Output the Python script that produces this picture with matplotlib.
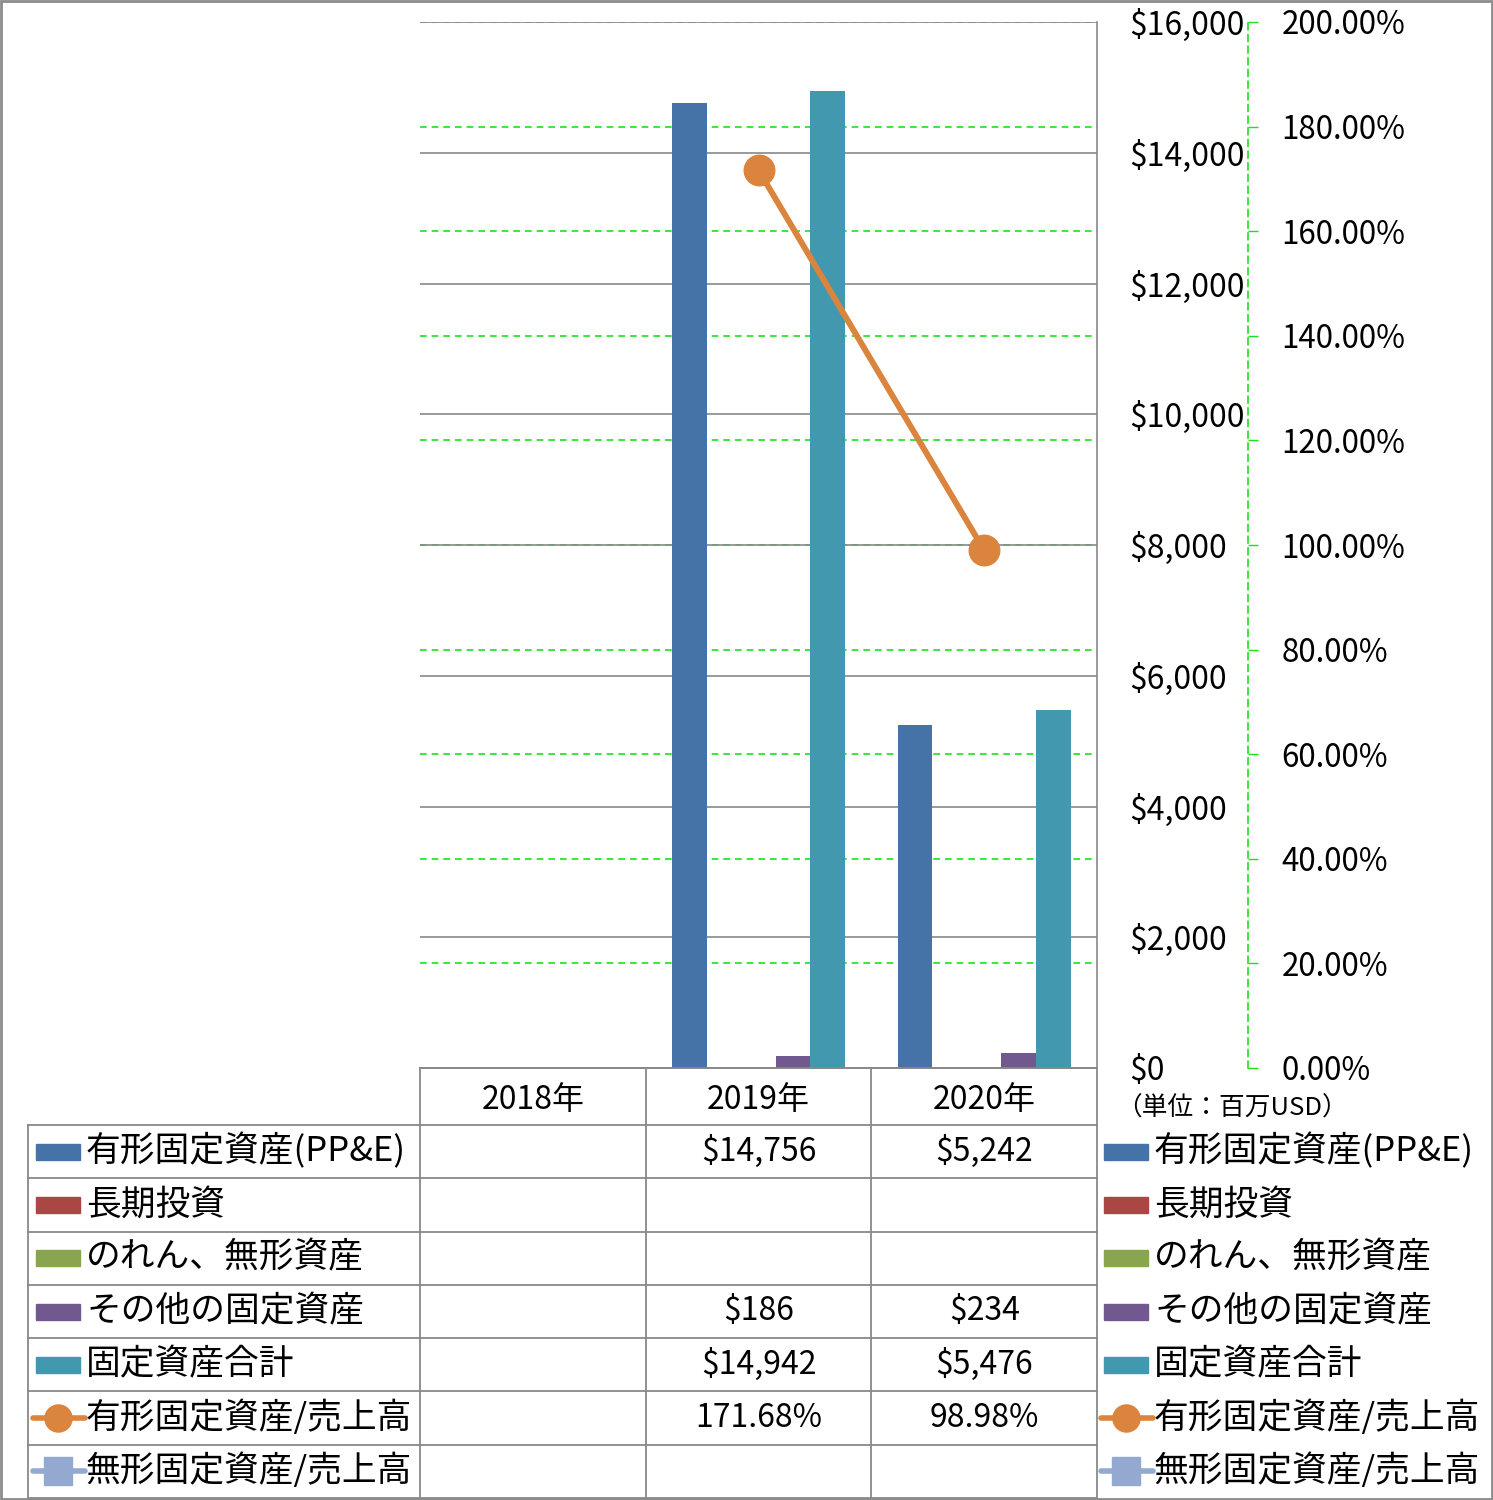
import numpy as np
import matplotlib
matplotlib.use("Agg")
import matplotlib.pyplot as plt
import matplotlib.transforms as mtransforms
from matplotlib.lines import Line2D
from matplotlib.patches import Rectangle
from matplotlib.ticker import FuncFormatter

plt.rcParams['font.family'] = ['Noto Sans CJK JP', 'DejaVu Sans']

# data (units: million USD)
years = ["2018年", "2019年", "2020年"]
ppe = [np.nan, 14756, 5242]
long_inv = [np.nan, np.nan, np.nan]
goodwill = [np.nan, np.nan, np.nan]
other_fixed = [np.nan, 186, 234]
total_fixed = [np.nan, 14942, 5476]
ppe_ratio = [np.nan, 171.68, 98.98]
intang_ratio = [np.nan, np.nan, np.nan]

bar_names = ["有形固定資産(PP&E)", "長期投資", "のれん、無形資産", "その他の固定資産", "固定資産合計"]
bar_values = [ppe, long_inv, goodwill, other_fixed, total_fixed]
bar_colors = ["#4572A7", "#AA4643", "#89A54E", "#71588F", "#4198AF"]
line_names = ["有形固定資産/売上高", "無形固定資産/売上高"]
line_values = [ppe_ratio, intang_ratio]
line_colors = ["#DB843D", "#93A9CF"]
line_markers = ["o", "s"]

W, H = 1493, 1500
fig = plt.figure(figsize=(W / 100, H / 100), dpi=100)

def fx(px):
    return px / W

def fy(py):
    return 1 - py / H

GREEN = "#1EE01E"
GRAY = "#898989"
FS = 23

# plot area in pixels
L, R, T, B = 420, 1097, 22, 1068
rect = [fx(L), fy(B), fx(R) - fx(L), fy(T) - fy(B)]
x = np.arange(len(years))

# green dashed gridlines for the % axis (below bars)
ax_grid = fig.add_axes(rect)
ax_grid.set_xlim(-0.5, 2.5)
ax_grid.set_ylim(0, 200)
ax_grid.set_yticks(np.arange(0, 201, 20))
ax_grid.grid(axis="y", color=GREEN, linestyle=(0, (4, 3)), linewidth=1.2)
ax_grid.tick_params(left=False, bottom=False, labelleft=False, labelbottom=False)
for s in ax_grid.spines.values():
    s.set_visible(False)

# bars
ax = fig.add_axes(rect)
ax.patch.set_visible(False)
ax.set_xlim(-0.5, 2.5)
ax.set_ylim(0, 16000)
ax.set_yticks(np.arange(0, 16001, 2000))
ax.grid(axis="y", color=GRAY, linewidth=1.2)
ax.set_axisbelow(True)
bw = 0.767 / len(bar_values)
for i, (vals, col) in enumerate(zip(bar_values, bar_colors)):
    ax.bar(x + (i - 2) * bw, vals, width=bw, color=col, zorder=3)
ax.yaxis.tick_right()
ax.tick_params(axis="y", length=0, pad=23, labelsize=FS)
ax.tick_params(axis="x", bottom=False, labelbottom=False)
ax.yaxis.set_major_formatter(FuncFormatter(lambda v, p: f"${v:,.0f}"))
for lab in ax.get_yticklabels():
    lab.set_horizontalalignment("left")
for k in ["left", "top"]:
    ax.spines[k].set_visible(False)
ax.spines["right"].set_color(GRAY)
ax.spines["right"].set_linewidth(1.2)
ax.spines["bottom"].set_color(GRAY)
ax.spines["bottom"].set_linewidth(1.2)

# ratio lines on the secondary axis
ax2 = fig.add_axes(rect)
ax2.patch.set_visible(False)
ax2.set_xlim(-0.5, 2.5)
ax2.set_ylim(0, 200)
ax2.set_yticks(np.arange(0, 201, 20))
for vals, col, mk in zip(line_values, line_colors, line_markers):
    ax2.plot(x, vals, color=col, linewidth=4.3, marker=mk, markersize=22,
             zorder=5, clip_on=False)
ax2.yaxis.tick_right()
ax2.yaxis.set_major_formatter(FuncFormatter(lambda v, p: f"{v:.2f}%"))
ax2.tick_params(axis="y", direction="out", length=7.2, width=1, color=GREEN,
                pad=17, labelsize=FS - 0.5)
ax2.tick_params(axis="x", bottom=False, labelbottom=False)
for k in ["left", "top", "bottom"]:
    ax2.spines[k].set_visible(False)
ax2.spines["right"].set_position(("outward", (1248 - R) * 0.72))
ax2.spines["right"].set_color(GREEN)
ax2.spines["right"].set_linestyle((0, (4, 3)))
ax2.spines["right"].set_linewidth(1.2)

# data table
bt = mtransforms.blended_transform_factory(ax.transData, fig.transFigure)
row_top = 1125
row_h = (1498 - row_top) / 7
edges = [-0.5, 0.5, 1.5, 2.5]

def hline(x0px, y, x1data=2.5):
    # from pixel x0 to data x1
    x0d = (x0px - L) / (R - L) * 3 - 0.5
    fig.add_artist(Line2D([x0d, x1data], [fy(y), fy(y)], transform=bt,
                          color=GRAY, linewidth=1.3))

hline(L, B)
for r in range(8):
    hline(28, row_top + r * row_h)
for e in edges:
    fig.add_artist(Line2D([e, e], [fy(B), fy(1498)], transform=bt,
                          color=GRAY, linewidth=1.3))
fig.add_artist(Line2D([fx(28), fx(28)], [fy(row_top), fy(1498)],
                      transform=fig.transFigure, color=GRAY, linewidth=1.3))

for i, yr in enumerate(years):
    fig.text(x[i], fy((B + row_top) / 2 + 3), yr, transform=bt, ha="center",
             va="center", fontsize=FS)

def draw_key(x0, yc, kind, color, marker=None):
    if kind == "bar":
        fig.add_artist(Rectangle((fx(x0), fy(yc + 8)), 44 / W, 16 / H,
                                 transform=fig.transFigure, color=color))
    else:
        fig.add_artist(Line2D([fx(x0 - 3), fx(x0 + 49)], [fy(yc), fy(yc)],
                              transform=fig.transFigure, color=color,
                              linewidth=4, solid_capstyle="round"))
        fig.add_artist(Line2D([fx(x0 + 22)], [fy(yc)], transform=fig.transFigure,
                              color=color, marker=marker, markersize=19.5,
                              linestyle="none"))

all_names = bar_names + line_names
all_vals = bar_values + line_values
for r, (name, vals) in enumerate(zip(all_names, all_vals)):
    yc = row_top + (r + 0.5) * row_h
    if r < len(bar_names):
        kind, col, mk = "bar", bar_colors[r], None
        fmt = lambda v: f"${v:,.0f}"
    else:
        kind, col, mk = "line", line_colors[r - 5], line_markers[r - 5]
        fmt = lambda v: f"{v:.2f}%"
    # left legend in table
    draw_key(36, yc, kind, col, mk)
    fig.text(fx(86), fy(yc), name, ha="left", va="center", fontsize=FS + 2)
    # right legend
    draw_key(1104, yc, kind, col, mk)
    fig.text(fx(1154), fy(yc), name, ha="left", va="center", fontsize=FS + 2)
    for i, v in enumerate(vals):
        if not np.isnan(v):
            fig.text(x[i], fy(yc), fmt(v), transform=bt, ha="center",
                     va="center", fontsize=FS)

fig.text(fx(1116), fy(1109), "（単位：百万USD）", ha="left", va="center",
         fontsize=18.5)

# outer border
fig.add_artist(Rectangle((0.0007, 0.0007), 0.9986, 0.9986, transform=fig.transFigure,
                         fill=False, edgecolor="#8C8C8C", linewidth=2))

fig.savefig("out.png", dpi=100)
